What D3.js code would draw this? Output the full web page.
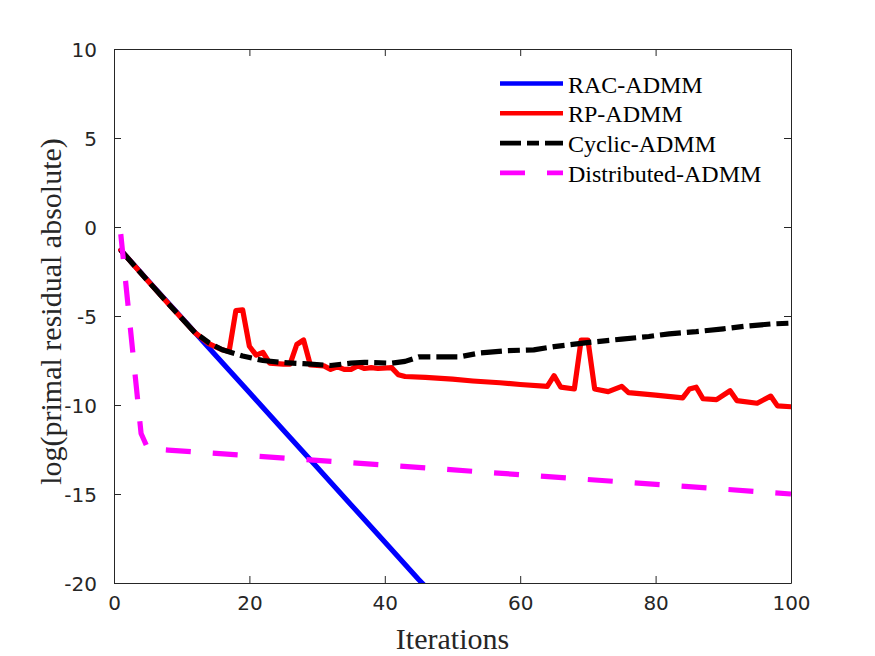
<!DOCTYPE html>
<html>
<head>
<meta charset="utf-8">
<script src="https://cdnjs.cloudflare.com/ajax/libs/d3/7.8.5/d3.min.js"></script>
<style>
  body { margin: 0; background: #fff; }
  .tick text { font-family: "DejaVu Sans", sans-serif; font-size: 20px; fill: #262626; }
  .aText { font-family: "Liberation Serif", "Times New Roman", serif; font-size: 30px; fill: #262626; }
  .legText { font-family: "Liberation Serif", "Times New Roman", serif; font-size: 24px; fill: #000; }
</style>
</head>
<body>
<div id="chart"></div>
<script>
// Data
// ================================
var seriesNames = ["RAC-ADMM", "RP-ADMM", "Cyclic-ADMM", "Distributed-ADMM"];

var xTicks = [0, 20, 40, 60, 80, 100];
var yTicks = [-20, -15, -10, -5, 0, 5, 10];

var racIter = [1, 5, 10, 15, 20, 25, 30, 35, 40, 45, 46];
var racVal = [-1.3, -3.0, -5.1, -7.2, -9.3, -11.4, -13.5, -15.6, -17.7, -19.8, -20.2];

var rpIter = [1, 4, 8, 12, 14, 16, 17, 18, 19, 20, 21, 22, 23, 25, 26, 27, 28, 29, 31, 32, 33, 34, 35, 36,
  37, 38, 39, 41, 42, 43, 46, 50, 53, 57, 60, 64, 65, 66, 68, 69, 70, 71, 73, 75, 76, 80, 84, 85, 86,
  87, 89, 91, 92, 95, 97, 98, 100];
var rpVal = [-1.3, -2.6, -4.3, -5.95, -6.55, -6.9, -7.0, -4.7, -4.65, -6.7, -7.2, -7.05, -7.65, -7.7, -7.7,
  -6.6, -6.35, -7.75, -7.8, -8.0, -7.85, -8.0, -8.0, -7.8, -7.95, -7.9, -7.95, -7.9, -8.3, -8.4, -8.45,
  -8.55, -8.65, -8.75, -8.85, -8.95, -8.35, -9.0, -9.1, -6.35, -6.35, -9.1, -9.25, -8.95, -9.3, -9.45,
  -9.6, -9.1, -9.0, -9.65, -9.7, -9.2, -9.75, -9.9, -9.5, -10.05, -10.1];

var cycIter = [1, 4, 8, 12, 14, 16, 19, 22, 25, 28, 32, 35, 37, 41, 43, 45, 47, 51, 54, 58, 62, 65, 71,
  75, 79, 82, 86, 90, 93, 97, 100];
var cycVal = [-1.3, -2.6, -4.3, -5.95, -6.5, -6.9, -7.25, -7.5, -7.62, -7.68, -7.78, -7.65, -7.6, -7.65,
  -7.55, -7.3, -7.3, -7.3, -7.08, -6.95, -6.9, -6.72, -6.45, -6.3, -6.15, -6.0, -5.88, -5.72, -5.58,
  -5.45, -5.4];

var disIter = [1, 4, 5, 8, 47, 100];
var disVal = [-0.4, -11.6, -12.45, -12.53, -13.56, -15.0];

// Set up chart
// ================================
var svgWidth = 875;
var svgHeight = 656;

var margin = { top: 49, right: 84, bottom: 73, left: 114 };
var width = svgWidth - margin.left - margin.right;
var height = svgHeight - margin.top - margin.bottom;

var svg = d3.select("#chart")
  .append("svg")
  .attr("width", svgWidth)
  .attr("height", svgHeight)
  .style("background", "#fff");

var chartGroup = svg.append("g")
  .attr("transform", `translate(${margin.left}, ${margin.top})`);

var xLinearScale = d3.scaleLinear().domain([0, 100]).range([0, width]);
var yLinearScale = d3.scaleLinear().domain([-20, 10]).range([height, 0]);

// clip lines to the axes box
chartGroup.append("clipPath")
  .attr("id", "plotClip")
  .append("rect")
  .attr("width", width)
  .attr("height", height);

// Axes (MATLAB style: ticks inside, box on)
// ================================
var tickLen = 7;
var plainNum = d => String(d); // hyphen minus like the original

var bottomAxis = d3.axisBottom(xLinearScale).tickValues(xTicks).tickFormat(plainNum)
  .tickSizeInner(-tickLen).tickSizeOuter(0).tickPadding(13);
var leftAxis = d3.axisLeft(yLinearScale).tickValues(yTicks).tickFormat(plainNum)
  .tickSizeInner(-tickLen).tickSizeOuter(0).tickPadding(17);
var topAxis = d3.axisTop(xLinearScale).tickValues(xTicks).tickSizeInner(-tickLen).tickSizeOuter(0).tickFormat("");
var rightAxis = d3.axisRight(yLinearScale).tickValues(yTicks).tickSizeInner(-tickLen).tickSizeOuter(0).tickFormat("");

var gx = chartGroup.append("g").attr("transform", `translate(0, ${height})`).call(bottomAxis);
var gy = chartGroup.append("g").call(leftAxis);
var gt = chartGroup.append("g").call(topAxis);
var gr = chartGroup.append("g").attr("transform", `translate(${width}, 0)`).call(rightAxis);

[gx, gy, gt, gr].forEach(function (g) {
  g.select(".domain").attr("stroke", "#262626").attr("stroke-width", 1);
  g.selectAll(".tick line").attr("stroke", "#262626").attr("stroke-width", 1);
});
gx.selectAll(".tick text").attr("dy", "0.71em");
gy.selectAll(".tick text").attr("dy", "0.36em");

// Lines
// ================================
var series = [
  { name: seriesNames[0], iter: racIter, val: racVal, color: "#0000ff", dash: null },
  { name: seriesNames[1], iter: rpIter, val: rpVal, color: "#ff0000", dash: null },
  { name: seriesNames[2], iter: cycIter, val: cycVal, color: "#000000", dash: "21,6,12,6" },
  { name: seriesNames[3], iter: disIter, val: disVal, color: "#ff00ff", dash: "25,22" }
];

var line = d3.line()
  .x(d => xLinearScale(d[0]))
  .y(d => yLinearScale(d[1]));

var linesGroup = chartGroup.append("g").attr("clip-path", "url(#plotClip)");

series.forEach(function (s) {
  var pts = s.iter.map((it, i) => [it, s.val[i]]);
  linesGroup.append("path")
    .datum(pts)
    .attr("d", line)
    .attr("fill", "none")
    .attr("stroke", s.color)
    .attr("stroke-width", 5.2)
    .attr("stroke-linejoin", "round")
    .attr("stroke-linecap", s.dash ? "butt" : "round")
    .attr("stroke-dasharray", s.dash);
});

// Legend (no box)
// ================================
var legend = svg.append("g").attr("transform", "translate(500, 83.5)");

series.forEach(function (s, i) {
  var row = legend.append("g").attr("transform", `translate(0, ${i * 29.8})`);
  row.append("line")
    .attr("x1", 0).attr("x2", 63)
    .attr("stroke", s.color)
    .attr("stroke-width", 4.6)
    .attr("stroke-dasharray", s.dash);
  row.append("text")
    .classed("legText", true)
    .attr("x", 68)
    .attr("y", 9)
    .text(s.name);
});

// Axis labels
// ================================
svg.append("text")
  .classed("aText", true)
  .attr("x", margin.left + width / 2)
  .attr("y", 649)
  .attr("text-anchor", "middle")
  .text("Iterations");

svg.append("text")
  .classed("aText", true)
  .attr("transform", "rotate(-90)")
  .attr("x", -311.5)
  .attr("y", 61)
  .attr("text-anchor", "middle")
  .text("log(primal residual absolute)");
</script>
</body>
</html>
